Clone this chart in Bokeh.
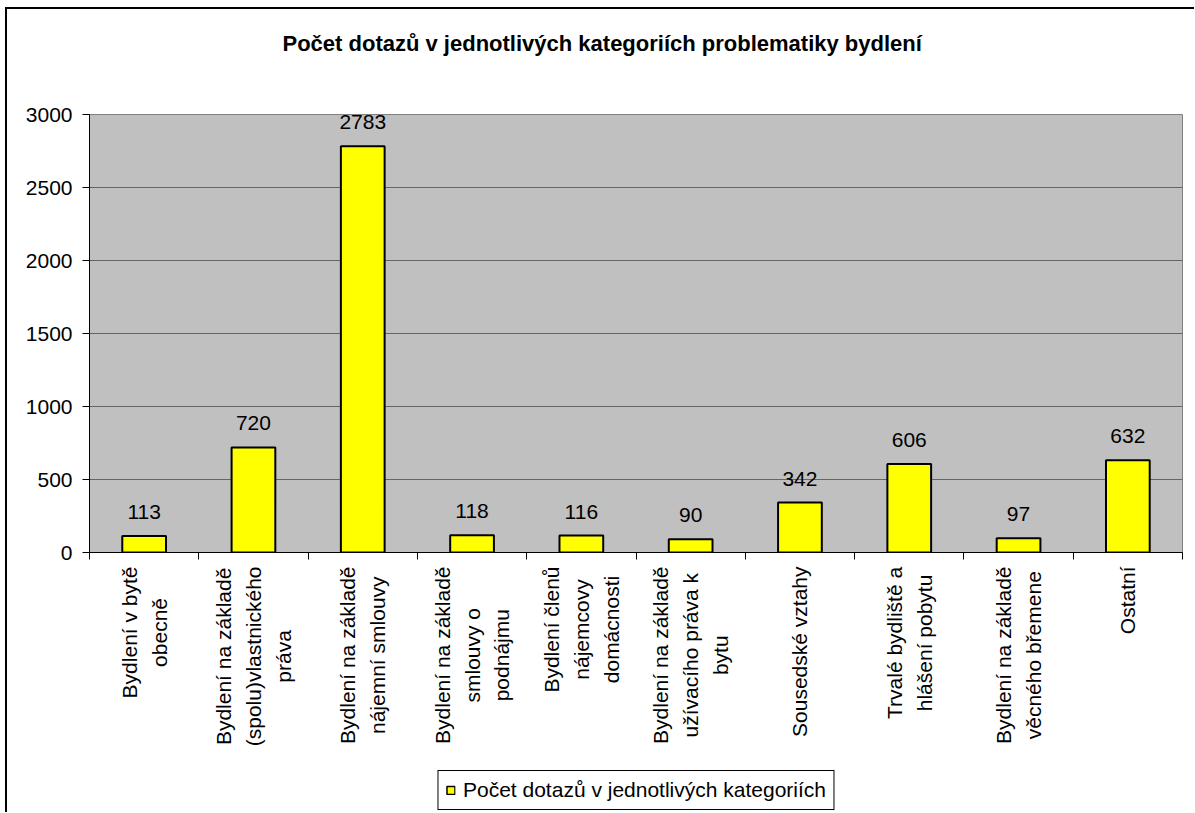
import math
from bokeh.plotting import figure
from bokeh.layouts import column
from bokeh.models import FixedTicker, Legend, LegendItem, ColumnDataSource, Title, Range1d
from bokeh.core.properties import value
from bokeh.embed import file_html
from bokeh.resources import INLINE

categories = [
    "Bydlení v bytě\nobecně",
    "Bydlení na základě\n(spolu)vlastnického\npráva",
    "Bydlení na základě\nnájemní smlouvy",
    "Bydlení na základě\nsmlouvy o\npodnájmu",
    "Bydlení členů\nnájemcovy\ndomácnosti",
    "Bydlení na základě\nužívacího práva k\nbytu",
    "Sousedské vztahy",
    "Trvalé bydliště a\nhlášení pobytu",
    "Bydlení na základě\nvěcného břemene",
    "Ostatní",
]
counts = [113, 720, 2783, 118, 116, 90, 342, 606, 97, 632]
y_ticks = [0, 500, 1000, 1500, 2000, 2500, 3000]
title_text = "Počet dotazů v jednotlivých kategoriích problematiky bydlení"
series_name = "Počet dotazů v jednotlivých kategoriích"

FONT = "Liberation Sans"
FS = 21  # px, normal text size

# Approximate advance widths of Liberation Sans (Arial metrics, per 1000 em),
# used only to top-align the centred multi-line category labels under the axis.
ADV = {' ': 278, '(': 333, ')': 333, 'B': 667, 'O': 778, 'S': 667, 'T': 611,
       'a': 556, 'b': 556, 'c': 500, 'd': 556, 'e': 556, 'g': 556, 'h': 556,
       'i': 222, 'j': 222, 'k': 500, 'l': 222, 'm': 833, 'n': 556, 'o': 556,
       'p': 556, 'r': 333, 's': 500, 't': 278, 'u': 556, 'v': 500, 'y': 500,
       'z': 500, 'á': 556, 'é': 556, 'í': 278, 'ě': 556, 'ý': 500, 'č': 500,
       'ř': 333, 'š': 500, 'ů': 556, 'ž': 500}


def text_width(s, size):
    return max(sum(ADV.get(ch, 556) for ch in line) for line in s.split("\n")) * size / 1000.0


n = len(categories)
positions = list(range(1, n + 1))
label_gap = 2  # px between top of the lower panel and the label block
src = ColumnDataSource(dict(x=positions, top=counts, lab=[str(c) for c in counts],
                            cat=categories, zero=[0] * n,
                            cat_off=[label_gap + text_width(c, FS) / 2 for c in categories]))

W = 1187
H1 = 555
H2 = 248

# ---------- main chart ----------
p = figure(width=W, height=H1, x_range=Range1d(0.5, n + 0.5), y_range=(0, 3000),
           output_backend="svg", toolbar_location=None,
           min_border_left=82, min_border_right=12, min_border_top=105, min_border_bottom=12)

spacer = Title(text=" ", text_font_size="20px", standoff=30)
p.add_layout(spacer, "above")

p.title.text = title_text
p.title.align = "left"
p.title.offset = 193
p.title.standoff = 10
p.title.text_font = FONT
p.title.text_font_size = "22px"
p.title.text_font_style = "bold"
p.title.text_color = "black"

p.background_fill_color = "#C0C0C0"
p.border_fill_color = "white"
p.outline_line_color = "#808080"
p.xgrid.visible = False
p.ygrid.grid_line_color = "#666666"
p.ygrid.grid_line_width = 1

p.yaxis.ticker = FixedTicker(ticks=y_ticks)
p.yaxis.axis_line_color = "black"
p.yaxis.major_tick_line_color = "black"
p.yaxis.major_tick_out = 7
p.yaxis.major_tick_in = 0
p.yaxis.minor_tick_line_color = None
p.yaxis.major_label_text_font = FONT
p.yaxis.major_label_text_font_size = f"{FS}px"
p.yaxis.major_label_text_color = "black"
p.yaxis.major_label_standoff = 10

# x axis: only boundary ticks between categories
p.xaxis.ticker = FixedTicker(ticks=[], minor_ticks=[i + 0.5 for i in range(n + 1)])
p.xaxis.major_tick_line_color = None
p.xaxis.minor_tick_line_color = "black"
p.xaxis.minor_tick_out = 7
p.xaxis.minor_tick_in = 0
p.xaxis.axis_line_color = "black"
p.xaxis.major_label_standoff = 0

bars = p.vbar(x="x", top="top", width=0.40, source=src, fill_color="#FFFF00",
              line_color="black", line_width=2)
p.text(x="x", y="top", text="lab", source=src, text_align="center", text_baseline="alphabetic",
       y_offset=-24, text_font=value(FONT), text_font_size=f"{FS}px", text_color="black")

# ---------- category labels + legend ----------
p2 = figure(width=W, height=H2, x_range=p.x_range, y_range=Range1d(-1, 0),
            output_backend="svg", toolbar_location=None,
            x_axis_type=None, y_axis_type=None,
            min_border_left=82, min_border_right=12, min_border_top=0, min_border_bottom=0)
p2.outline_line_color = None
p2.background_fill_color = "white"
p2.border_fill_color = "white"
p2.grid.visible = False

p2.text(x="x", y="zero", text="cat", source=src, angle=math.pi / 2,
        text_align="center", text_baseline="middle", y_offset="cat_off",
        text_font=value(FONT), text_font_size=f"{FS}px", text_color="black",
        text_line_height=1.3)

bars2 = p2.vbar(x="x", top="top", width=0.40, source=src, fill_color="#FFFF00",
                line_color="black", line_width=1.5, visible=False)

legend = Legend(items=[LegendItem(label=series_name, renderers=[bars2])],
                location="bottom_center", orientation="horizontal")
legend.label_text_font = FONT
legend.label_text_font_size = f"{FS}px"
legend.label_text_color = "black"
legend.border_line_color = "black"
legend.border_line_alpha = 1.0
legend.border_line_width = 1
legend.background_fill_color = "white"
legend.background_fill_alpha = 1.0
legend.inactive_fill_alpha = 0.0
legend.glyph_width = 10
legend.glyph_height = 10
legend.label_standoff = 8
legend.padding = 7
legend.margin = 2
legend.spacing = 0
p2.add_layout(legend, "center")

layout = column(p, p2, spacing=0)
layout.styles = {"margin-left": "5px", "margin-top": "7px",
                 "border-left": "2px solid black", "border-top": "2px solid black"}

open("out.html", "w").write(file_html(layout, INLINE))
